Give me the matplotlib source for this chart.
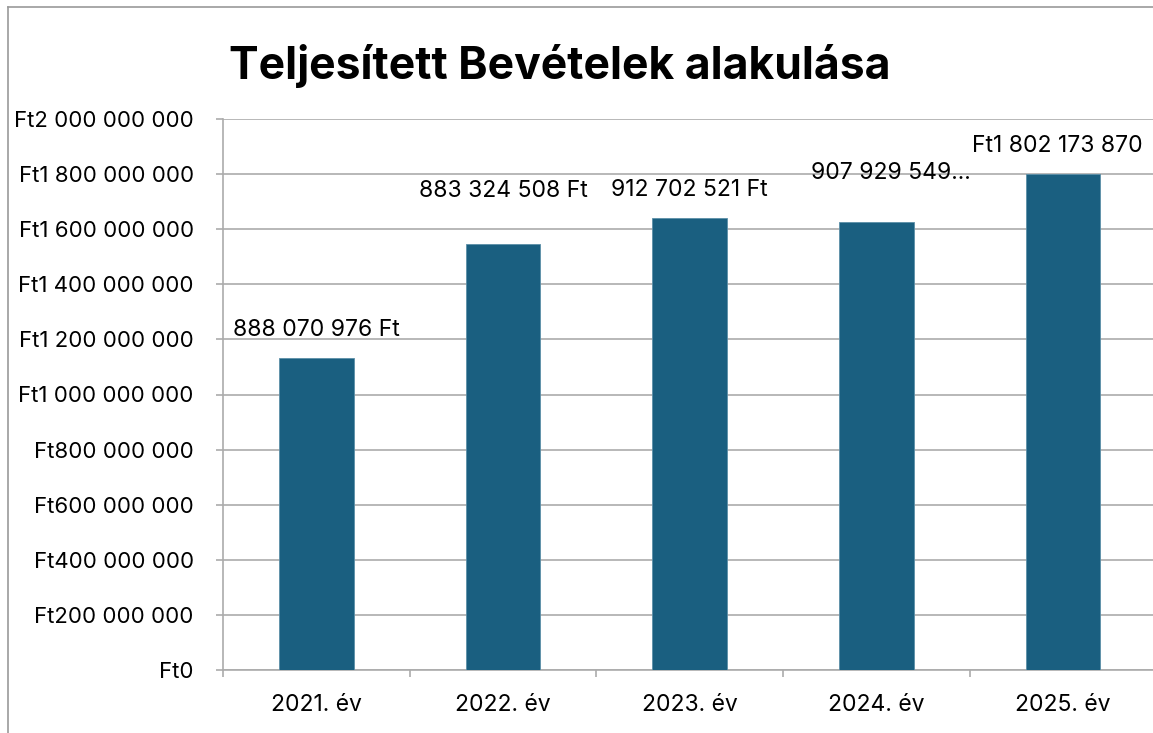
import matplotlib
matplotlib.use("Agg")
import matplotlib.pyplot as plt
from matplotlib.lines import Line2D
import numpy as np

categories = ["2021. év", "2022. év", "2023. év", "2024. év", "2025. év"]
values = [1132000000, 1547000000, 1641000000, 1627000000, 1802173870]
data_labels = ["888 070 976 Ft", "883 324 508 Ft", "912 702 521 Ft", "907 929 549...", "Ft1 802 173 870"]
yticks = [0, 200000000, 400000000, 600000000, 800000000, 1000000000,
          1200000000, 1400000000, 1600000000, 1800000000, 2000000000]
title = "Teljesített Bevételek alakulása"

label_offsets_px = [(0, 28), (0, 53), (0, 28), (14, 49), (-6, 28)]

plt.rcParams['font.family'] = ['Inter', 'DejaVu Sans']

W, H = 1153, 733
fig = plt.figure(figsize=(W / 100, H / 100), dpi=100)

ax = fig.add_axes([223 / W, 1 - 670 / H, (1156.5 - 223) / W, (670 - 119) / H])
x = np.arange(len(categories))
bar_color = "#1A5F80"
ax.bar(x, values, width=0.4, color=bar_color, edgecolor="#5b8fa8", linewidth=0.6, zorder=3)

ax.set_xlim(-0.5, len(categories) - 0.5)
ax.set_ylim(0, 2000000000)


def fmt(v):
    s = f"{int(v):,}".replace(",", " ")
    return "Ft" + s


ax.set_yticks(yticks)
ax.set_yticklabels([fmt(v) for v in yticks])
ax.set_xticks(x)
ax.set_xticklabels(categories)
ax.set_xticks(np.arange(len(categories) + 1) - 0.5, minor=True)

grid_color = "#ababab"
ax.yaxis.grid(True, color=grid_color, linewidth=1.2, zorder=0)
ax.set_axisbelow(True)
for s in ["top", "right"]:
    ax.spines[s].set_visible(False)
for s in ["left", "bottom"]:
    ax.spines[s].set_color(grid_color)
    ax.spines[s].set_linewidth(1.2)

ax.tick_params(axis="y", length=5, width=1.2, color=grid_color, pad=16, labelsize=16, labelcolor="black")
ax.tick_params(axis="x", which="major", length=0, pad=17, labelsize=16.5, labelcolor="black")
ax.tick_params(axis="x", which="minor", length=5, width=1.2, color=grid_color)

for xi, v, lab, (dx, dy) in zip(x, values, data_labels, label_offsets_px):
    ax.annotate(lab, xy=(xi, v), xytext=(dx * 0.72, dy * 0.72), textcoords="offset points",
                ha="center", va="center", fontsize=16.5, color="black", annotation_clip=False)

fig.text(560 / W, 1 - 66 / H, title, ha="center", va="center", fontsize=32, fontweight="bold", color="black")

# chart border (left and top edges visible)
fig.add_artist(Line2D([8 / W, 8 / W], [0, 1 - 7 / H], transform=fig.transFigure, color="#9a9a9a", linewidth=1.2))
fig.add_artist(Line2D([8 / W, 1], [1 - 7 / H, 1 - 7 / H], transform=fig.transFigure, color="#9a9a9a", linewidth=1.2))

fig.savefig("out.png", dpi=100)
